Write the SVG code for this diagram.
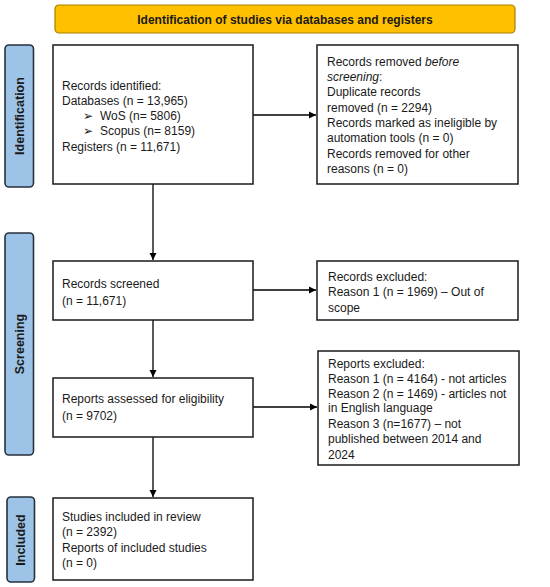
<svg xmlns="http://www.w3.org/2000/svg" width="550" height="587" viewBox="0 0 550 587">
<style>
.box{fill:#fff;stroke:#1a1a1a;stroke-width:1.5}
.side{fill:#9DC3E6;stroke:#26313d;stroke-width:1.6}
.t{font-family:"Liberation Sans",Arial,sans-serif;font-size:12px;fill:#1a1a1a}
.b{font-family:"Liberation Sans",Arial,sans-serif;font-size:12.5px;font-weight:bold;fill:#1a1a1a}
.c{stroke:#000;stroke-width:1.3;fill:none}
</style>
<defs>
<marker id="ah" markerWidth="8" markerHeight="8" refX="7" refY="4" orient="auto" markerUnits="userSpaceOnUse">
<path d="M0,0.5 L7,4 L0,7.5 Z" fill="#000"/>
</marker>
</defs>
<rect width="550" height="587" fill="#fff"/>
<g id="banner">
<rect x="55" y="5" width="460" height="28" rx="4" fill="#FFC000" stroke="#A88000" stroke-width="1.2"/>
<text class="b" x="285" y="23.5" text-anchor="middle" style="font-size:12px">Identification of studies via databases and registers</text>
</g>
<g id="side-identification">
<rect class="side" x="5" y="45" width="28.5" height="142" rx="4"/>
<text class="b" transform="translate(24,116) rotate(-90)" text-anchor="middle">Identification</text>
</g>
<g id="side-screening">
<rect class="side" x="5" y="233" width="28.5" height="222" rx="4"/>
<text class="b" transform="translate(24,344) rotate(-90)" text-anchor="middle">Screening</text>
</g>
<g id="side-included">
<rect class="side" x="7" y="497" width="27.5" height="85" rx="4"/>
<text class="b" transform="translate(25,540) rotate(-90)" text-anchor="middle">Included</text>
</g>
<g id="connectors">
<line class="c" x1="253" y1="115" x2="316" y2="115" marker-end="url(#ah)"/>
<line class="c" x1="153" y1="184" x2="153" y2="260" marker-end="url(#ah)"/>
<line class="c" x1="253" y1="290" x2="316" y2="290" marker-end="url(#ah)"/>
<line class="c" x1="153" y1="320" x2="153" y2="377" marker-end="url(#ah)"/>
<line class="c" x1="253" y1="407" x2="317" y2="407" marker-end="url(#ah)"/>
<line class="c" x1="153" y1="437" x2="153" y2="497" marker-end="url(#ah)"/>
</g>
<g id="records-identified">
<rect class="box" x="53" y="45" width="200" height="139"/>
<text class="t" x="62" y="90">Records identified:</text>
<text class="t" x="62" y="105">Databases (n = 13,965)</text>
<text class="t" x="83" y="120">➢</text>
<text class="t" x="100" y="120">WoS (n= 5806)</text>
<text class="t" x="83" y="135">➢</text>
<text class="t" x="100" y="135">Scopus (n= 8159)</text>
<text class="t" x="62" y="151">Registers (n = 11,671)</text>
</g>
<g id="records-removed">
<rect class="box" x="317" y="45" width="201" height="139"/>
<text class="t" x="327" y="65.5">Records removed <tspan font-style="italic">before</tspan></text>
<text class="t" x="327" y="81"><tspan font-style="italic">screening</tspan>:</text>
<text class="t" x="327" y="96">Duplicate records</text>
<text class="t" x="327" y="111.5">removed (n = 2294)</text>
<text class="t" x="327" y="127">Records marked as ineligible by</text>
<text class="t" x="327" y="142">automation tools (n = 0)</text>
<text class="t" x="327" y="157.5">Records removed for other</text>
<text class="t" x="327" y="173">reasons (n = 0)</text>
</g>
<g id="records-screened">
<rect class="box" x="53" y="261" width="200" height="59"/>
<text class="t" x="62" y="287.5">Records screened</text>
<text class="t" x="62" y="304.5">(n = 11,671)</text>
</g>
<g id="records-excluded">
<rect class="box" x="317" y="261" width="201" height="59"/>
<text class="t" x="328" y="280.5">Records excluded:</text>
<text class="t" x="328" y="295.5">Reason 1 (n = 1969) – Out of</text>
<text class="t" x="328" y="311.5">scope</text>
</g>
<g id="reports-assessed">
<rect class="box" x="53" y="378" width="200" height="59"/>
<text class="t" x="62" y="402.5">Reports assessed for eligibility</text>
<text class="t" x="62" y="420">(n = 9702)</text>
</g>
<g id="reports-excluded">
<rect class="box" x="318" y="351" width="201" height="114"/>
<text class="t" x="328" y="367.5">Reports excluded:</text>
<text class="t" x="328" y="382.5">Reason 1 (n = 4164) - not articles</text>
<text class="t" x="328" y="397.5">Reason 2 (n = 1469) - articles not</text>
<text class="t" x="328" y="412">in English language</text>
<text class="t" x="328" y="427.5">Reason 3 (n=1677) – not</text>
<text class="t" x="328" y="443">published between 2014 and</text>
<text class="t" x="328" y="458.5">2024</text>
</g>
<g id="studies-included">
<rect class="box" x="53" y="498" width="200" height="82"/>
<text class="t" x="62" y="520.5">Studies included in review</text>
<text class="t" x="62" y="535.5">(n = 2392)</text>
<text class="t" x="62" y="551.5">Reports of included studies</text>
<text class="t" x="62" y="566.5">(n = 0)</text>
</g>
</svg>
